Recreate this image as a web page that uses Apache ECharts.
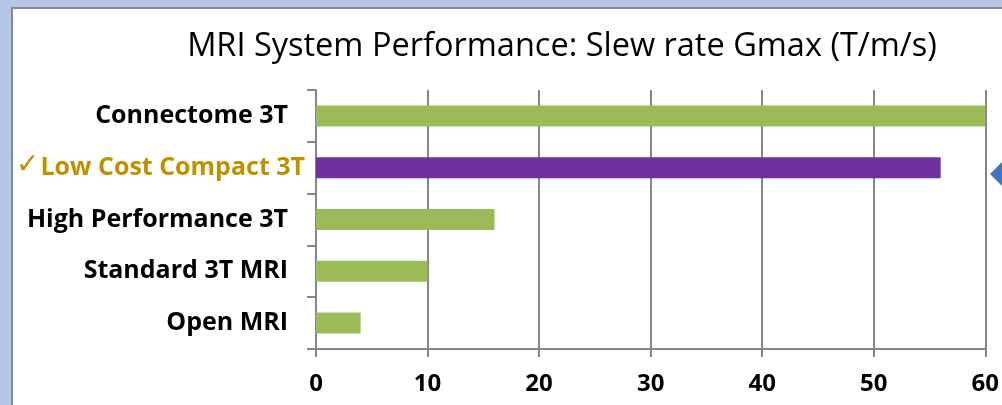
<!DOCTYPE html>
<html>
<head>
<meta charset="utf-8">
<script src="https://cdn.jsdelivr.net/npm/echarts@6/dist/echarts.min.js"></script>
<style>
  html, body { margin: 0; padding: 0; background: #B4C7E7; }
  #chart { width: 1002px; height: 405px; }
</style>
</head>
<body>
<div id="chart"></div>
<script>
// MRI scanner gradient slew rates, T/m/s
const categories = ['Connectome 3T', 'Low Cost Compact 3T', 'High Performance 3T', 'Standard 3T MRI', 'Open MRI'];
const slewRates = [60, 56, 16, 10, 4];
const highlighted = 'Low Cost Compact 3T';
const xTicks = { min: 0, max: 60, step: 10 };

const GREEN = '#9BBB59';
const PURPLE = '#7030A0';
const GOLD = '#BF9000';
const GRID_GRAY = '#868686';
const LABEL_FONT = '"Open Sans", "DejaVu Sans", sans-serif';

const chart = echarts.init(document.getElementById('chart'), null, { renderer: 'canvas' });

chart.setOption({
  backgroundColor: '#B4C7E7',
  animation: false,
  title: {
    text: 'MRI System Performance: Slew rate Gmax (T/m/s)',
    left: 557,
    textAlign: 'center',
    top: 25,
    textStyle: { fontFamily: LABEL_FONT, fontWeight: 'normal', fontSize: 32.5, color: '#000' }
  },
  graphic: [
    {
      type: 'rect',
      z: -10,
      shape: { x: 12, y: 8, width: 1000, height: 410 },
      style: { fill: '#FFFFFF', stroke: '#8A8A8A', lineWidth: 2 }
    },
    {
      type: 'polygon',
      z: 10,
      shape: { points: [[990, 174], [1004, 160], [1018, 174], [1004, 188]] },
      style: { fill: '#4472C4' }
    }
  ],
  grid: { left: 316, right: 13, top: 90, bottom: 56, containLabel: false },
  xAxis: {
    type: 'value',
    min: xTicks.min,
    max: xTicks.max,
    interval: xTicks.step,
    axisLine: { show: true, lineStyle: { color: GRID_GRAY, width: 2 } },
    axisTick: { show: true, length: 8, lineStyle: { color: GRID_GRAY, width: 2 } },
    splitLine: { show: true, lineStyle: { color: GRID_GRAY, width: 2 } },
    axisLabel: {
      margin: 23,
      fontFamily: LABEL_FONT,
      fontWeight: 'bold',
      fontSize: 24,
      color: '#000'
    }
  },
  yAxis: {
    type: 'category',
    inverse: true,
    data: categories,
    axisLine: { show: true, lineStyle: { color: GRID_GRAY, width: 2 } },
    axisTick: { show: true, length: 9, lineStyle: { color: GRID_GRAY, width: 2 } },
    axisLabel: {
      margin: 11,
      formatter: function (name) {
        return name === highlighted ? '{c|\u2713}{g|' + name + '}' : '{n|' + name + '}';
      },
      rich: {
        n: { fontFamily: LABEL_FONT, fontWeight: 'bold', fontSize: 25, color: '#000', padding: [0, 17, 0, 0] },
        g: { fontFamily: LABEL_FONT, fontWeight: 'bold', fontSize: 25, color: GOLD },
        c: { fontFamily: '"DejaVu Sans", sans-serif', fontWeight: 'bold', fontSize: 28, color: GOLD, padding: [0, 1, 4, 0] }
      }
    }
  },
  series: [{
    type: 'bar',
    barWidth: 21,
    data: slewRates.map(function (v, i) {
      return {
        value: v,
        itemStyle: { color: categories[i] === highlighted ? PURPLE : GREEN }
      };
    })
  }]
});
</script>
</body>
</html>
